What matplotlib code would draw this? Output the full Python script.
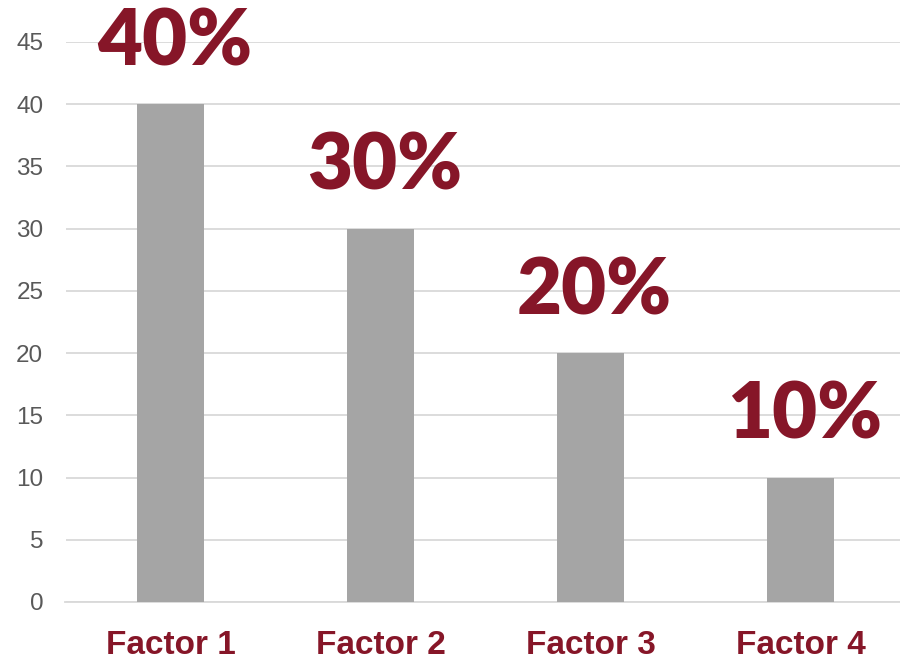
import matplotlib
matplotlib.use("Agg")
import matplotlib.pyplot as plt

categories = ["Factor 1", "Factor 2", "Factor 3", "Factor 4"]
values = [40, 30, 20, 10]
labels = ["40%", "30%", "20%", "10%"]
yticks = [0, 5, 10, 15, 20, 25, 30, 35, 40, 45]

red = "#861628"
fig = plt.figure(figsize=(9, 6.6), dpi=100)
ax = fig.add_axes([65.5 / 900, 0.0879, 840 / 900, 0.8485])
x = list(range(len(categories)))
ax.bar(x, values, width=0.315, color="#A5A5A5", zorder=3)
ax.set_xlim(-0.5, 3.5)
ax.set_ylim(0, 45)
ax.set_yticks(yticks)
ax.set_yticklabels([str(t) for t in yticks], fontsize=17.5, color="#595959",
                   family="Liberation Sans")
ax.set_xticks(x)
ax.set_xticklabels(categories, fontsize=24, fontweight="bold", color=red,
                   family="Liberation Sans")
ax.tick_params(axis="y", length=0, pad=16)
ax.tick_params(axis="x", length=0, pad=20)
ax.grid(axis="y", color="#D9D9D9", linewidth=1.3, zorder=0)
for s in ["top", "right", "left"]:
    ax.spines[s].set_visible(False)
ax.spines["bottom"].set_color("#D9D9D9")
ax.spines["bottom"].set_linewidth(1.3)
for xi, v, lab in zip(x, values, labels):
    ax.annotate(lab, (xi, v), xytext=(3, 28), textcoords="offset points",
                ha="center", va="baseline", fontsize=56, fontweight="heavy",
                color=red, family="Lato", annotation_clip=False, zorder=4)
fig.savefig("out.png", dpi=100)
